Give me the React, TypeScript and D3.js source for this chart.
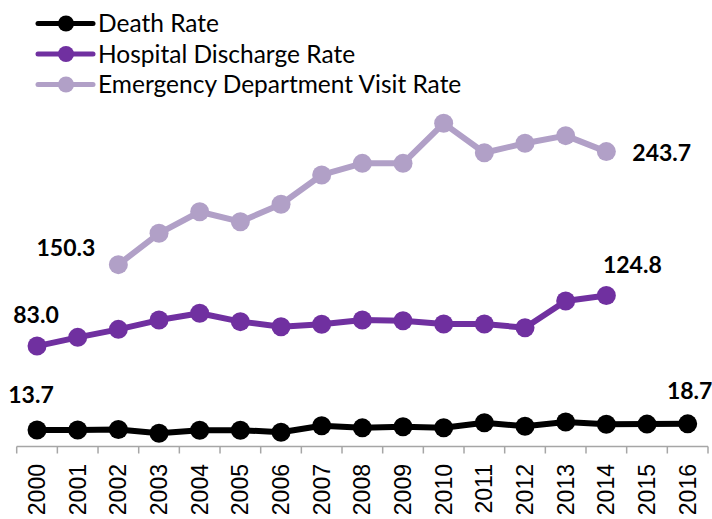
import React from 'react';
import * as d3 from 'd3';

// categories
const years = ['2000', '2001', '2002', '2003', '2004', '2005', '2006', '2007', '2008',
  '2009', '2010', '2011', '2012', '2013', '2014', '2015', '2016'];

// rates per 100,000
const deathRate = [13.7, 13.6, 14.0, 11.0, 13.4, 13.5, 11.8, 17.2, 15.4, 16.3, 15.5, 19.6, 16.8, 20.2, 18.4, 18.5, 18.7];
const hospitalRate = [83.0, 90.2, 96.8, 104.5, 110.1, 103.2, 99.0, 101.0, 104.5, 104.0, 101.2, 101.2, 98.2, 120.2, 124.8];
const edRate = [150.3, 176.2, 194.0, 185.8, 200.2, 224.4, 234.0, 234.0, 267.1, 242.8, 250.6, 256.9, 243.7];

const seriesNames = ['Death Rate', 'Hospital Discharge Rate', 'Emergency Department Visit Rate'];

const W = 712, H = 519;
const LABEL_FONT = 'Lato, "Liberation Sans", sans-serif';

// where the first / last value labels sit, relative to their point
const labelPlace = {
  'Death Rate': [{ dx: -6, dy: -27, anchor: 'middle' }, { dx: 2, dy: -25, anchor: 'middle' }],
  'Hospital Discharge Rate': [{ dx: -1, dy: -23, anchor: 'middle' }, { dx: 26, dy: -22, anchor: 'middle' }],
  'Emergency Department Visit Rate': [{ dx: -23, dy: -9, anchor: 'end' }, { dx: 26, dy: 9, anchor: 'start' }],
};

export default function App() {
  const x = d3.scaleBand().domain(years).range([16.7, 708]).padding(0);
  const y = d3.scaleLinear().domain([0, 300]).range([446.5, 83.5]);
  const cx = (yr) => x(yr) + x.bandwidth() / 2;

  const series = [
    { name: seriesNames[0], color: '#000000', start: 0, values: deathRate },
    { name: seriesNames[1], color: '#7030A0', start: 0, values: hospitalRate },
    { name: seriesNames[2], color: '#B1A0C7', start: 2, values: edRate },
  ].map(s => ({
    ...s,
    points: s.values.map((v, i) => ({ year: years[s.start + i], v })),
  }));

  const line = d3.line()
    .x(d => cx(d.year))
    .y(d => y(d.v));

  const axisY = y(0);
  const boundaries = years.map(yr => x(yr)).concat([x.range()[1]]);

  return (
    <svg width={W} height={H} style={{ position: 'absolute', left: 0, top: 0, background: '#fff' }}>
      {/* x axis */}
      <g>
        <line x1={x.range()[0]} x2={x.range()[1]} y1={axisY} y2={axisY} stroke="#A6A6A6" strokeWidth={1.5} />
        {boundaries.map((bx, i) => (
          <line key={i} x1={bx} x2={bx} y1={axisY} y2={axisY + 7} stroke="#A6A6A6" strokeWidth={1.5} />
        ))}
        {years.map(yr => (
          <text key={yr}
            transform={`translate(${cx(yr)},464) rotate(-90)`}
            textAnchor="end" dy="0.35em"
            fontFamily='"Liberation Sans", Arial, sans-serif' fontSize={23} fill="#000">
            {yr}
          </text>
        ))}
      </g>

      {/* lines and markers */}
      {series.map(s => (
        <g key={s.name}>
          <path d={line(s.points)} fill="none" stroke={s.color} strokeWidth={6} strokeLinejoin="round" />
          {s.points.map(p => (
            <circle key={p.year} cx={cx(p.year)} cy={y(p.v)} r={9.5} fill={s.color} />
          ))}
        </g>
      ))}

      {/* first / last value labels */}
      {series.map(s => {
        const ends = [s.points[0], s.points[s.points.length - 1]];
        return ends.map((p, i) => {
          const pl = labelPlace[s.name][i];
          return (
            <text key={s.name + i} x={cx(p.year) + pl.dx} y={y(p.v) + pl.dy}
              textAnchor={pl.anchor} fontFamily={LABEL_FONT} fontWeight="bold" fontSize={23} fill="#000">
              {p.v.toFixed(1)}
            </text>
          );
        });
      })}

      {/* legend */}
      {series.map((s, i) => {
        const ly = 23.5 + i * 30.5;
        return (
          <g key={s.name} transform={`translate(0,${ly})`}>
            <line x1={38} x2={93} y1={0} y2={0} stroke={s.color} strokeWidth={5} strokeLinecap="round" />
            <circle cx={66} cy={0} r={8} fill={s.color} />
            <text x={98} y={8.8} fontFamily={LABEL_FONT} fontSize={24.5} fill="#000">{s.name}</text>
          </g>
        );
      })}
    </svg>
  );
}
